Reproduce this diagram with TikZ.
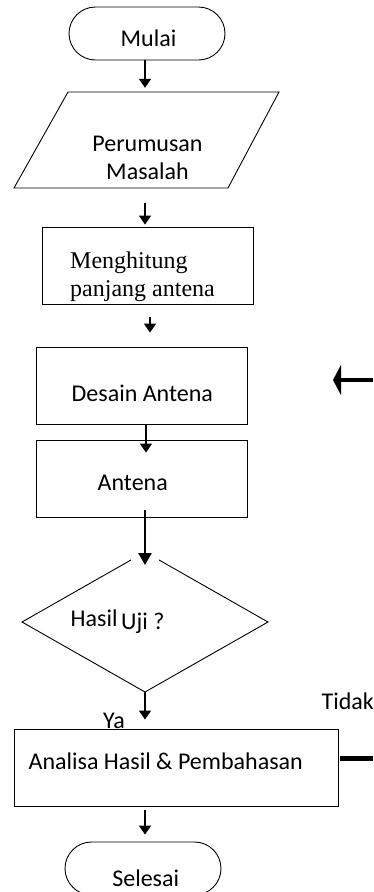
\documentclass[tikz,border=0pt]{standalone}
\usepackage{fontspec}
\setmainfont{Carlito}
\newfontfamily\tnr{Liberation Serif}
\usetikzlibrary{arrows.meta,calc}
\begin{document}
\begin{tikzpicture}[x=1pt,y=-1pt,
  box/.style={draw, line width=0.9pt, inner sep=0pt, minimum width=211pt, minimum height=77pt},
  term/.style={draw, line width=0.9pt, inner sep=0pt, minimum width=156pt, minimum height=53pt, rounded corners=26.5pt},
  lbl/.style={anchor=base west, inner sep=0pt, font=\fontsize{24}{28}\selectfont},
  serif/.style={anchor=base west, inner sep=0pt, font=\tnr\fontsize{24}{28}\selectfont},
  arr/.style={line width=1.6pt, -{Triangle[width=12pt,length=9pt]}},
  arrb/.style={line width=2.6pt, -{Triangle[width=13pt,length=12pt]}},
]
\useasboundingbox (0,0) rectangle (373,892);

% shapes
\node[term] (mulai) at (147,33.5) {};
\node[inner sep=0pt, minimum width=214pt, minimum height=96pt] (per) at (146.5,140) {};
\draw[line width=0.9pt] (68,92) -- (279,92) -- (228,188) -- (14,188) -- cycle;
\node[box] (hit) at (147.5,265.5) {};
\node[box] (desain) at (141.5,385.5) {};
\node[box] (antena) at (141.5,478.5) {};
\coordinate (dT) at (145,552);
\coordinate (dR) at (268,622);
\coordinate (dB) at (145,692);
\coordinate (dL) at (22,622);
\draw[line width=0.9pt] (dT) -- (dR) -- (dB) -- (dL) -- cycle;
\fill[white] (131,546) rectangle (159,561);
\node[box, minimum width=324pt] (analisa) at (176,767.5) {};
\node[term] (selesai) at (143,868.5) {};

% texts
\node[lbl, anchor=base] (tmulai) at (148.5,46) {Mulai};
\node[lbl, anchor=base] (tper1) at (147.5,151) {Perumusan};
\node[lbl, anchor=base] (tper2) at (147.5,179) {Masalah};
\node[serif] (thit1) at (70,268.5) {Menghitung};
\node[serif] (thit2) at (70,296) {panjang antena};
\node[lbl] (tdes) at (71.5,401.5) {Desain Antena};
\node[lbl] (tant) at (97.5,490.5) {Antena};
\node[lbl] (thasil) at (70.5,626) {Hasil};
\node[lbl] (tuji) at (121,629) {Uji ?};
\node[lbl] (tya) at (103,728) {Ya};
\node[lbl] (ttidak) at (321.5,709) {Tidak};
\node[lbl] (tana) at (28.5,769) {Analisa Hasil \& Pembahasan};
\node[lbl, anchor=base] (tsel) at (145.7,886) {Selesai};

% connectors
\draw[arr] ($(mulai.south)+(-2,0)$) -- ($(per.north)+(-1.5,-4)$);
\draw[arr] ($(per.south)+(-1.5,15)$) -- ($(hit.north)+(-2.5,-2)$);
\draw[arr] ($(hit.south)+(2.5,13)$) -- ($(desain.north)+(8.5,-14)$);
\draw[arr] ($(desain.south)+(4.5,0)$) -- ($(antena.north)+(4.5,13)$);
\draw[arrb] ($(antena.south)+(3.5,-7)$) -- ($(dT)+(0,13)$);
\draw[arr] (dB) -- ($(analisa.north)+(-31,-9)$);
\draw[arr] ($(analisa.south)+(-31,4)$) -- ($(selesai.north)+(2,-7)$);

% loose right-hand pieces
\coordinate (rA) at (373,380);
\coordinate (rB) at (333,380);
\draw[line width=4pt, -{Triangle[width=30pt,length=8pt]}] (rA) -- (rB);
\coordinate (rC) at (373,758);
\draw[line width=5pt] ($(analisa.east)+(2,-9.5)$) -- (rC);
\end{tikzpicture}
\end{document}
